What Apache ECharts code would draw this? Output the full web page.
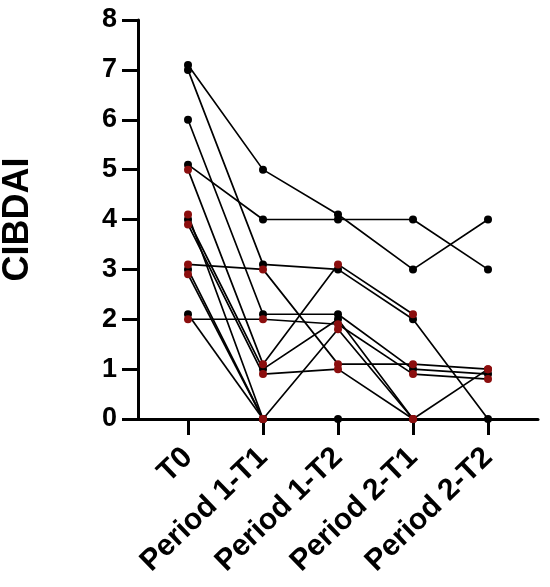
<!DOCTYPE html>
<html>
<head>
<meta charset="utf-8">
<script src="https://cdn.jsdelivr.net/npm/echarts@6/dist/echarts.min.js"></script>
<style>
    html, body { margin: 0; padding: 0; background: #fff; }
    #main { width: 550px; height: 587px; }
</style>
</head>
<body>
<div id="main"></div>
<script>
// 时间点
const categories = ['T0', 'Period 1-T1', 'Period 1-T2', 'Period 2-T1', 'Period 2-T2'];
const yTicks = [0, 1, 2, 3, 4, 5, 6, 7, 8];

// 每个受试者的 CIBDAI 值 (null = 缺失)
const s1 = [7.1, 5.0, 4.1, 3.0, 4.0];
const s2 = [5.1, 4.0, 4.0, 4.0, 3.0];
const s3 = [7.0, 3.1, 3.0, 2.0, 0];
const s4 = [6.0, 2.1, 2.1, 1.0, 0.9];
const s10 = [4.0, 1.0, 2.0, 0, null];
const s11 = [3.0, 0, 0, null, null];
const s13 = [2.1, 0, null, null, null];
const s5 = [5.0, 1.1, 3.1, 2.1, null];
const s6 = [3.1, 3.0, 1.1, 1.1, 1.0];
const s7 = [2.0, 2.0, 1.9, 0.9, 0.8];
const s8 = [3.9, 0.9, 1.0, 0, 1.0];
const s9 = [4.1, 0, 1.8, 0, null];
const s12 = [2.9, 0, null, null, null];

// 分组
const groupA = [s1, s2, s3, s4, s10, s11, s13];
const groupB = [s5, s6, s7, s8, s9, s12];

const FONT = "'Liberation Sans', Arial, sans-serif";
const groupColor = { A: '#000000', B: '#8b0e0e' };

function makeSeries(values, group, z) {
    return {
        type: 'line',
        data: values.map((v, i) => [i, v]),
        connectNulls: false,
        symbol: 'circle',
        symbolSize: 8,
        z: z,
        lineStyle: { color: '#000', width: 1.7 },
        itemStyle: { color: groupColor[group] },
        emphasis: { disabled: true }
    };
}

const series = [];
groupA.forEach(v => series.push(makeSeries(v, 'A', 2)));
groupB.forEach(v => series.push(makeSeries(v, 'B', 3)));

const myChart = echarts.init(document.getElementById('main'), null, { renderer: 'canvas' });
const option = {
    animation: false,
    grid: { left: 138, right: 12, top: 20, bottom: 168, containLabel: false, outerBoundsMode: 'none' },
    xAxis: {
        type: 'value',
        min: -2 / 3,
        max: 14 / 3,
        splitLine: { show: false },
        axisLine: { show: true, onZero: false, lineStyle: { color: '#000', width: 3 } },
        axisTick: {
            show: true, length: 16,
            customValues: categories.map((c, i) => i),
            lineStyle: { color: '#000', width: 3 }
        },
        axisLabel: {
            customValues: categories.map((c, i) => i),
            formatter: v => categories[Math.round(v)],
            rotate: 44,
            margin: 34,
            color: '#000',
            fontFamily: FONT,
            fontWeight: 'bold',
            fontSize: 30
        }
    },
    yAxis: {
        type: 'value',
        min: 0,
        max: 8,
        interval: 1,
        name: 'CIBDAI',
        nameLocation: 'middle',
        nameRotate: 90,
        nameGap: 102,
        nameTextStyle: { color: '#000', fontFamily: FONT, fontWeight: 'bold', fontSize: 36 },
        splitLine: { show: false },
        axisLine: { show: true, onZero: false, lineStyle: { color: '#000', width: 3 } },
        axisTick: { show: true, length: 16, lineStyle: { color: '#000', width: 3 } },
        axisLabel: {
            margin: 21,
            color: '#000',
            fontFamily: FONT,
            fontWeight: 'bold',
            fontSize: 27,
            formatter: v => (yTicks.indexOf(v) >= 0 ? String(v) : '')
        }
    },
    series: series
};
myChart.setOption(option);
</script>
</body>
</html>
